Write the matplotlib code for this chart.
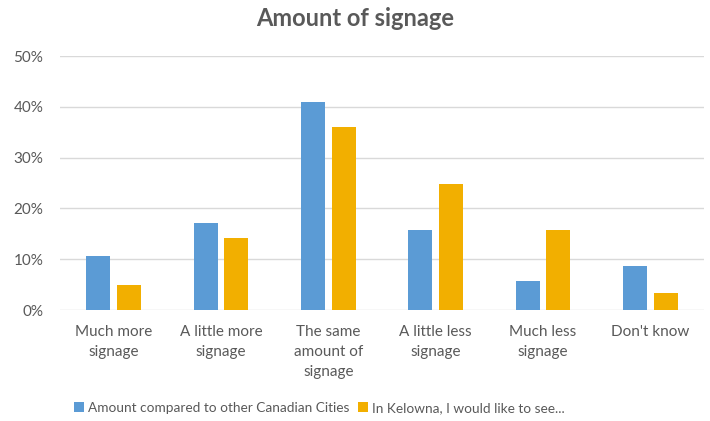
import numpy as np
import matplotlib.pyplot as plt
from matplotlib.ticker import PercentFormatter

categories = ["Much more\nsignage", "A little more\nsignage", "The same\namount of\nsignage",
              "A little less\nsignage", "Much less\nsignage", "Don't know"]
compared = [0.106, 0.171, 0.409, 0.157, 0.057, 0.087]
kelowna = [0.049, 0.141, 0.360, 0.249, 0.157, 0.033]
series_names = ["Amount compared to other Canadian Cities", "In Kelowna, I would like to see..."]

plt.rcParams['font.family'] = ['Lato', 'DejaVu Sans']
grey = '#595959'

fig = plt.figure(figsize=(7.1, 4.21), dpi=100)
ax = fig.add_axes([60/710, 1-310/421, 644/710, 254/421])

x = np.arange(len(categories))
w = 0.224
ax.bar(x - 0.142, compared, w, color='#5B9BD5', label=series_names[0], zorder=3)
ax.bar(x + 0.142, kelowna, w, color='#F2AF00', label=series_names[1], zorder=3)

ax.set_xlim(-0.5, len(categories) - 0.5)
ax.set_ylim(0, 0.5)
ax.set_yticks(np.arange(0, 0.51, 0.1))
ax.yaxis.set_major_formatter(PercentFormatter(1.0, decimals=0))
ax.set_xticks(x)
ax.set_xticklabels(categories, linespacing=1.55)
ax.tick_params(axis='both', length=0, colors=grey, labelsize=11)
ax.tick_params(axis='x', pad=11)
ax.tick_params(axis='y', pad=12)
ax.grid(axis='y', color='#D9D9D9', linewidth=1, zorder=0)
for s in ax.spines.values():
    s.set_visible(False)

fig.text(0.5, 1-19/421, "Amount of signage", ha='center', va='center',
         fontsize=17, fontweight='bold', color=grey)

fig.legend(loc='center left', bbox_to_anchor=(74/710, 1-408/421), ncol=2, frameon=False,
           borderpad=0, borderaxespad=0,
           fontsize=9.8, handlelength=0.75, handleheight=0.75, handletextpad=0.3,
           columnspacing=0.6, labelcolor=grey)

fig.savefig('out.png', dpi=100)
